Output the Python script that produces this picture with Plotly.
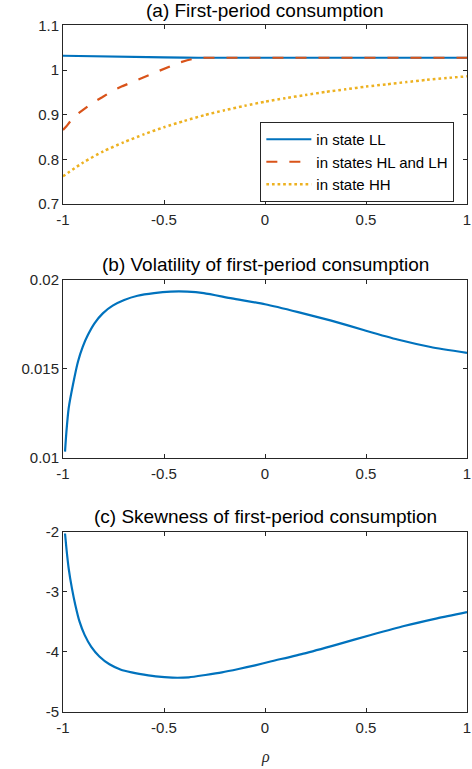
import plotly.graph_objects as go

# ---------------- data ----------------
rho_ll = [-1, -0.9, -0.8, -0.7, -0.6, -0.5, -0.4, -0.33, 0, 0.5, 1]
c_ll = [1.032, 1.031, 1.030, 1.0295, 1.029, 1.0285, 1.028, 1.0275, 1.0275, 1.0275, 1.0275]

rho_hl = [-1, -0.983, -0.947, -0.902, -0.853, -0.806, -0.754, -0.705, -0.647, -0.602,
          -0.544, -0.495, -0.435, -0.385, -0.33, 0, 0.5, 1]
c_hl = [0.866, 0.874, 0.895, 0.910, 0.927, 0.939, 0.954, 0.964, 0.975, 0.985,
        0.996, 1.005, 1.015, 1.022, 1.0275, 1.0275, 1.0275, 1.0275]

rho_hh = [-1, -0.9, -0.8, -0.7, -0.6, -0.5, -0.4, -0.3, -0.2, -0.1, 0,
          0.1, 0.2, 0.3, 0.4, 0.5, 0.6, 0.7, 0.8, 0.9, 1]
c_hh = [0.762, 0.793, 0.818, 0.838, 0.856, 0.872, 0.886, 0.899, 0.910, 0.920, 0.929,
        0.937, 0.944, 0.951, 0.957, 0.963, 0.968, 0.973, 0.978, 0.982, 0.986]

rho_vol = [-0.99, -0.983, -0.972, -0.951, -0.926, -0.902, -0.877, -0.844, -0.803, -0.754,
           -0.697, -0.631, -0.549, -0.467, -0.385, -0.303, -0.164, 0, 0.164, 0.328,
           0.492, 0.656, 0.82, 1]
vol = [0.01034, 0.01146, 0.01277, 0.01408, 0.01539, 0.01624, 0.01689, 0.01755, 0.01811, 0.01854,
       0.01886, 0.0191, 0.01925, 0.01933, 0.01933, 0.01925, 0.01895, 0.01862, 0.01818, 0.01770,
       0.01716, 0.01664, 0.01622, 0.01589]

rho_skew = [-0.99, -0.983, -0.972, -0.956, -0.939, -0.918, -0.893, -0.860, -0.820, -0.770,
            -0.713, -0.660, -0.623, -0.541, -0.459, -0.377, -0.295, -0.213, -0.131, -0.049,
            0.032, 0.197, 0.360, 0.524, 0.688, 0.852, 1]
skew = [-2.03, -2.28, -2.61, -2.94, -3.22, -3.5, -3.72, -3.92, -4.08, -4.21,
        -4.30, -4.345, -4.37, -4.412, -4.433, -4.427, -4.388, -4.344, -4.288, -4.227,
        -4.16, -4.027, -3.877, -3.722, -3.572, -3.444, -3.34]

x_ticks = [-1, -0.5, 0, 0.5, 1]
x_ticktext = ["-1", "-0.5", "0", "0.5", "1"]
ya_ticks = [0.7, 0.8, 0.9, 1.0, 1.1]
ya_ticktext = ["0.7", "0.8", "0.9", "1", "1.1"]
yb_ticks = [0.01, 0.015, 0.02]
yb_ticktext = ["0.01", "0.015", "0.02"]
yc_ticks = [-5, -4, -3, -2]
yc_ticktext = ["-5", "-4", "-3", "-2"]

titles = ["(a) First-period consumption",
          "(b) Volatility of first-period consumption",
          "(c) Skewness of first-period consumption"]
legend_names = ["in state LL", "in states HL and LH", "in state HH"]

BLUE = "#0072BD"
ORANGE = "#D95319"
YELLOW = "#EDB120"
AX = "#262626"
FONT = "Liberation Sans, Arial, Helvetica, sans-serif"

fig = go.Figure()
fig.add_trace(go.Scatter(x=rho_ll, y=c_ll, mode="lines", name=legend_names[0],
                         line=dict(color=BLUE, width=2.2), xaxis="x", yaxis="y"))
fig.add_trace(go.Scatter(x=rho_hl, y=c_hl, mode="lines", name=legend_names[1],
                         line=dict(color=ORANGE, width=2.2, dash="11px,12px"), xaxis="x", yaxis="y"))
fig.add_trace(go.Scatter(x=rho_hh, y=c_hh, mode="lines", name=legend_names[2],
                         line=dict(color=YELLOW, width=2.5, dash="2.7px,2.9px", shape="spline", smoothing=0.6),
                         xaxis="x", yaxis="y"))
fig.add_trace(go.Scatter(x=rho_vol, y=vol, mode="lines", showlegend=False,
                         line=dict(color=BLUE, width=2.2, shape="spline", smoothing=0.6),
                         xaxis="x2", yaxis="y2"))
fig.add_trace(go.Scatter(x=rho_skew, y=skew, mode="lines", showlegend=False,
                         line=dict(color=BLUE, width=2.2, shape="spline", smoothing=0.6),
                         xaxis="x3", yaxis="y3"))

T, B = 25, 57
H = 769 - T - B
def dom(top_px, bot_px):
    return [(769 - B - bot_px) / H, (769 - B - top_px) / H]

doms = [dom(25.4, 204), dom(279.7, 457.7), dom(531.7, 711.7)]

axis_common = dict(showline=True, linecolor=AX, linewidth=1, mirror="ticks",
                   ticks="inside", ticklen=4, tickcolor=AX, tickwidth=1,
                   showgrid=False, zeroline=False, ticklabeloverflow="allow",
                   tickfont=dict(family=FONT, size=15, color=AX))

layout = dict(
    width=472, height=769,
    margin=dict(l=63, r=1, t=T, b=B),
    paper_bgcolor="white", plot_bgcolor="white",
    font=dict(family=FONT, color=AX),
    showlegend=True,
    legend=dict(x=(262.3 - 63) / 408, y=(769 - B - 122) / H, xanchor="left", yanchor="top",
                bgcolor="white", bordercolor=AX, borderwidth=1,
                font=dict(family=FONT, size=15, color="black"),
                tracegroupgap=0, itemwidth=45),
)
ranges = [[0.7, 1.1], [0.01, 0.02], [-5, -2]]
yt = [(ya_ticks, ya_ticktext), (yb_ticks, yb_ticktext), (yc_ticks, yc_ticktext)]
for i in range(3):
    sx = "" if i == 0 else str(i + 1)
    layout["xaxis" + sx] = dict(axis_common, domain=[0, 1], range=[-1, 1],
                                tickvals=x_ticks, ticktext=x_ticktext,
                                anchor="y" + sx, ticklabelstandoff=2)
    layout["yaxis" + sx] = dict(axis_common, domain=doms[i], range=ranges[i],
                                tickvals=yt[i][0], ticktext=yt[i][1],
                                anchor="x" + sx)

annotations = []
for i in range(3):
    annotations.append(dict(text=titles[i], xref="paper", yref="paper",
                            x=0.5, y=doms[i][1], xanchor="center", yanchor="middle",
                            yshift=15, showarrow=False,
                            font=dict(family=FONT, size=19, color="black")))
annotations.append(dict(text="<i>ρ</i>", xref="paper", yref="paper", x=0.5,
                        y=(769 - B - 757) / H, xanchor="center", yanchor="middle",
                        showarrow=False,
                        font=dict(family="Liberation Serif, serif", size=16, color=AX)))
layout["annotations"] = annotations

fig.update_layout(**layout)
fig.write_html("out.html", config={"displayModeBar": False},
               post_script="document.body.style.margin='0';document.body.style.overflow='hidden';")
